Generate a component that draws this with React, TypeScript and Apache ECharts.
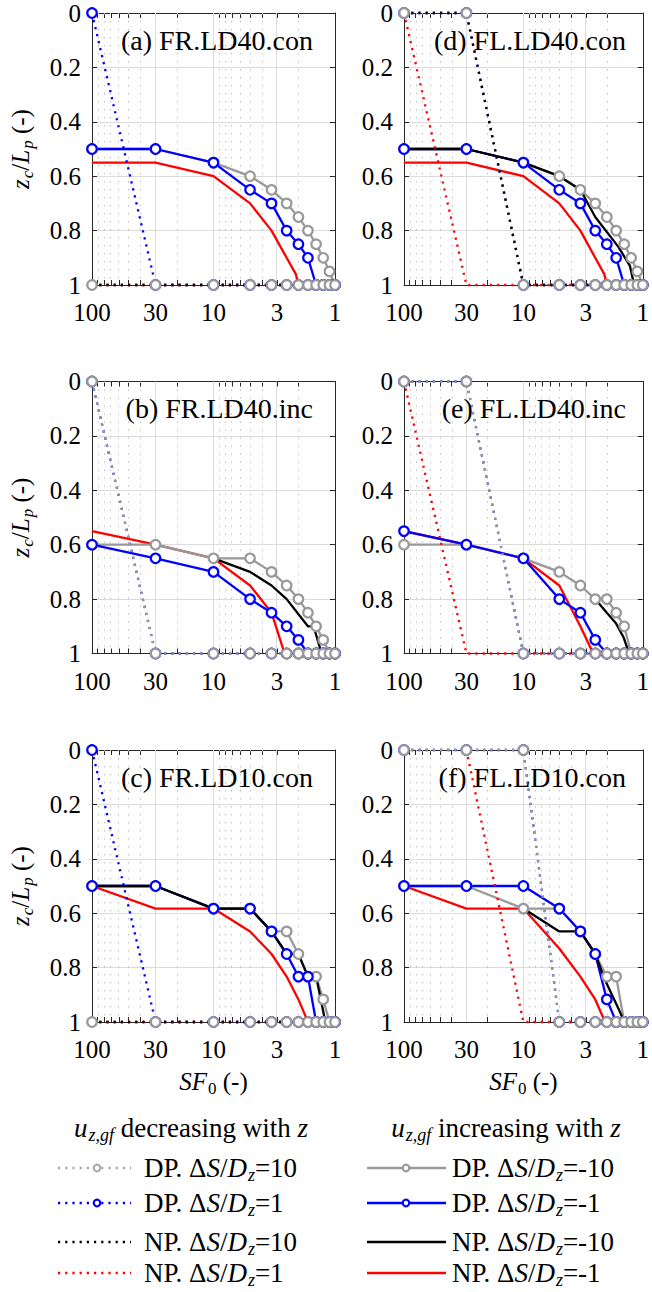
import React, { useEffect, useRef } from "react";
import * as echarts from "echarts";

// ---------- axis ticks ----------
const SF_MAJOR = [100, 30, 10, 3, 1];
const SF_MINOR = [90, 80, 70, 60, 50, 40, 20, 9, 8, 7, 6, 5, 4, 2];
const SF_TICKS = [100, 90, 80, 70, 60, 50, 40, 30, 20, 10, 9, 8, 7, 6, 5, 4, 3, 2, 1];

// ---------- data: [SF0, zc/Lp] ----------
// (a) FR.LD40.con
const a_dp10: [number, number][] = [[100, 1], [30, 1], [10, 1], [5, 1], [3.33, 1], [2.5, 1], [2, 1], [1.67, 1], [1.43, 1], [1.25, 1], [1.11, 1], [1, 1]];
const a_dp1: [number, number][] = [[100, 0], [30, 1], [10, 1], [5, 1], [3.33, 1], [2.5, 1], [2, 1], [1.67, 1], [1.43, 1], [1.25, 1], [1.11, 1], [1, 1]];
const a_np10: [number, number][] = [[100, 1], [1, 1]];
const a_np1: [number, number][] = [[100, 1], [1, 1]];
const a_dpm10: [number, number][] = [[100, 0.5], [30, 0.5], [10, 0.55], [5, 0.6], [3.33, 0.65], [2.5, 0.7], [2, 0.75], [1.67, 0.8], [1.43, 0.85], [1.25, 0.9], [1.11, 0.95], [1, 1]];
const a_dpm1: [number, number][] = [[100, 0.5], [30, 0.5], [10, 0.55], [5, 0.65], [3.33, 0.7], [2.5, 0.8], [2, 0.85], [1.67, 0.9], [1.43, 1], [1.25, 1], [1.11, 1], [1, 1]];
const a_npm10: [number, number][] = [];
const a_npm1: [number, number][] = [[100, 0.55], [30, 0.55], [10, 0.6], [5, 0.7], [3.33, 0.8], [2.5, 0.9], [2.1, 0.96], [2, 1]];

// (d) FL.LD40.con
const d_dp10: [number, number][] = [[100, 0], [30, 0], [10, 1], [5, 1], [3.33, 1], [2.5, 1], [2, 1], [1.67, 1], [1.43, 1], [1.25, 1], [1.11, 1], [1, 1]];
const d_dp1: [number, number][] = [[100, 0], [30, 0], [10, 1], [5, 1], [3.33, 1], [2.5, 1], [2, 1], [1.67, 1], [1.43, 1], [1.25, 1], [1.11, 1], [1, 1]];
const d_np10: [number, number][] = [[100, 0], [30, 0], [10, 1], [1, 1]];
const d_np1: [number, number][] = [[100, 0], [30, 1], [1, 1]];
const d_dpm10: [number, number][] = [[100, 0.5], [30, 0.5], [10, 0.55], [5, 0.6], [3.33, 0.65], [2.5, 0.7], [2, 0.75], [1.67, 0.8], [1.43, 0.85], [1.25, 0.9], [1.11, 0.95], [1, 1]];
const d_dpm1: [number, number][] = [[100, 0.5], [30, 0.5], [10, 0.55], [5, 0.65], [3.33, 0.7], [2.5, 0.8], [2, 0.85], [1.67, 0.9], [1.43, 1], [1.25, 1], [1.11, 1], [1, 1]];
const d_npm10: [number, number][] = [[100, 0.5], [30, 0.5], [10, 0.55], [5, 0.6], [3.33, 0.65], [2.5, 0.75], [1.6, 0.86], [1.28, 0.93], [1.18, 1], [1, 1]];
const d_npm1: [number, number][] = [[100, 0.55], [30, 0.55], [10, 0.6], [5, 0.7], [3.33, 0.8], [2.5, 0.9], [2.1, 0.96], [2, 1], [1, 1]];

// (b) FR.LD40.inc
const b_dp10: [number, number][] = [[100, 0], [30, 1], [10, 1], [5, 1], [3.33, 1], [2.5, 1], [2, 1], [1.67, 1], [1.43, 1], [1.25, 1], [1.11, 1], [1, 1]];
const b_dp1: [number, number][] = [[100, 0], [30, 1], [10, 1], [5, 1], [3.33, 1], [2.5, 1], [2, 1], [1.67, 1], [1.43, 1], [1.25, 1], [1.11, 1], [1, 1]];
const b_np10: [number, number][] = [];
const b_np1: [number, number][] = [];
const b_dpm10: [number, number][] = [[100, 0.6], [30, 0.6], [10, 0.65], [5, 0.65], [3.33, 0.7], [2.5, 0.75], [2, 0.8], [1.67, 0.85], [1.43, 0.9], [1.25, 0.95], [1.11, 1], [1, 1]];
const b_dpm1: [number, number][] = [[100, 0.6], [30, 0.65], [10, 0.7], [5, 0.8], [3.33, 0.85], [2.5, 0.9], [2, 0.95], [1.67, 1], [1.43, 1], [1.25, 1], [1.11, 1], [1, 1]];
const b_npm10: [number, number][] = [[10, 0.65], [5, 0.7], [3.33, 0.75], [2.5, 0.8], [1.67, 0.9], [1.5, 0.9], [1.29, 1], [1, 1]];
const b_npm1: [number, number][] = [[100, 0.55], [30, 0.6], [10, 0.65], [5, 0.75], [3.33, 0.85], [2.6, 1]];

// (e) FL.LD40.inc
const e_dp10: [number, number][] = [[100, 0], [30, 0], [10, 1], [5, 1], [3.33, 1], [2.5, 1], [2, 1], [1.67, 1], [1.43, 1], [1.25, 1], [1.11, 1], [1, 1]];
const e_dp1: [number, number][] = [[100, 0], [30, 0], [10, 1], [5, 1], [3.33, 1], [2.5, 1], [2, 1], [1.67, 1], [1.43, 1], [1.25, 1], [1.11, 1], [1, 1]];
const e_np10: [number, number][] = [];
const e_np1: [number, number][] = [[100, 0], [30, 1], [1, 1]];
const e_dpm10: [number, number][] = [[100, 0.6], [30, 0.6], [10, 0.65], [5, 0.7], [3.33, 0.75], [2.5, 0.8], [2, 0.8], [1.67, 0.85], [1.43, 0.9], [1.25, 1], [1.11, 1], [1, 1]];
const e_dpm1: [number, number][] = [[100, 0.55], [30, 0.6], [10, 0.65], [5, 0.8], [3.33, 0.85], [2.5, 0.95], [2, 1], [1.67, 1], [1.43, 1], [1.25, 1], [1.11, 1], [1, 1]];
const e_npm10: [number, number][] = [[2.5, 0.8], [2, 0.85], [1.67, 0.89], [1.45, 0.94], [1.3, 1], [1, 1]];
const e_npm1: [number, number][] = [[100, 0.55], [30, 0.6], [10, 0.65], [5, 0.75], [3.33, 0.9], [2.6, 1]];

// (c) FR.LD10.con
const c_dp10: [number, number][] = [[100, 1], [30, 1], [10, 1], [5, 1], [3.33, 1], [2.5, 1], [2, 1], [1.67, 1], [1.43, 1], [1.25, 1], [1.11, 1], [1, 1]];
const c_dp1: [number, number][] = [[100, 0], [30, 1], [10, 1], [5, 1], [3.33, 1], [2.5, 1], [2, 1], [1.67, 1], [1.43, 1], [1.25, 1], [1.11, 1], [1, 1]];
const c_np10: [number, number][] = [[100, 1], [1, 1]];
const c_np1: [number, number][] = [[100, 1], [1, 1]];
const c_dpm10: [number, number][] = [[100, 0.5], [30, 0.5], [10, 0.583], [5, 0.583], [3.33, 0.667], [2.5, 0.667], [2, 0.75], [1.67, 0.833], [1.43, 0.833], [1.25, 0.917], [1.11, 1], [1, 1]];
const c_dpm1: [number, number][] = [[100, 0.5], [30, 0.5], [10, 0.583], [5, 0.583], [3.33, 0.667], [2.5, 0.75], [2, 0.833], [1.67, 0.833], [1.43, 1], [1.25, 1], [1.11, 1], [1, 1]];
const c_npm10: [number, number][] = [[100, 0.5], [30, 0.5], [10, 0.583], [5, 0.583], [3.33, 0.667], [2.5, 0.75], [2, 0.75], [1.67, 0.833], [1.43, 0.833], [1.2, 1], [1, 1]];
const c_npm1: [number, number][] = [[100, 0.5], [30, 0.583], [10, 0.583], [5, 0.667], [3.33, 0.75], [2.5, 0.833], [2, 0.917], [1.67, 1], [1, 1]];

// (f) FL.LD10.con
const f_dp10: [number, number][] = [[100, 0], [30, 0], [10, 0], [5, 1], [3.33, 1], [2.5, 1], [2, 1], [1.67, 1], [1.43, 1], [1.25, 1], [1.11, 1], [1, 1]];
const f_dp1: [number, number][] = [[100, 0], [30, 0], [10, 0], [5, 1], [3.33, 1], [2.5, 1], [2, 1], [1.67, 1], [1.43, 1], [1.25, 1], [1.11, 1], [1, 1]];
const f_np10: [number, number][] = [];
const f_np1: [number, number][] = [[30, 0], [10, 1], [1, 1]];
const f_dpm10: [number, number][] = [[100, 0.5], [30, 0.5], [10, 0.583], [5, 0.583], [3.33, 0.667], [2.5, 0.75], [2, 0.833], [1.67, 0.833], [1.43, 1], [1.25, 1], [1.11, 1], [1, 1]];
const f_dpm1: [number, number][] = [[100, 0.5], [30, 0.5], [10, 0.5], [5, 0.583], [3.33, 0.667], [2.5, 0.75], [2, 0.917], [1.67, 1], [1.43, 1], [1.25, 1], [1.11, 1], [1, 1]];
const f_npm10: [number, number][] = [[10, 0.583], [5, 0.667], [3.33, 0.667], [2.5, 0.75], [2.1, 0.84], [1.6, 0.95], [1.43, 1], [1, 1]];
const f_npm1: [number, number][] = [[100, 0.5], [30, 0.583], [10, 0.583], [5, 0.73], [3.33, 0.833], [2.5, 0.917], [2.07, 1]];

const PANEL_TITLES = ["(a) FR.LD40.con", "(d) FL.LD40.con", "(b) FR.LD40.inc", "(e) FL.LD40.inc", "(c) FR.LD10.con", "(f) FL.LD10.con"];
const PANEL_DATA = [
  { npm1: a_npm1, dpm10: a_dpm10, dpm1: a_dpm1, npm10: a_npm10, dp1: a_dp1, dp10: a_dp10, np1: a_np1, np10: a_np10 },
  { npm1: d_npm1, dpm10: d_dpm10, dpm1: d_dpm1, npm10: d_npm10, dp1: d_dp1, dp10: d_dp10, np1: d_np1, np10: d_np10 },
  { npm1: b_npm1, dpm10: b_dpm10, dpm1: b_dpm1, npm10: b_npm10, dp1: b_dp1, dp10: b_dp10, np1: b_np1, np10: b_np10 },
  { npm1: e_npm1, dpm10: e_dpm10, dpm1: e_dpm1, npm10: e_npm10, dp1: e_dp1, dp10: e_dp10, np1: e_np1, np10: e_np10 },
  { npm1: c_npm1, dpm10: c_dpm10, dpm1: c_dpm1, npm10: c_npm10, dp1: c_dp1, dp10: c_dp10, np1: c_np1, np10: c_np10 },
  { npm1: f_npm1, dpm10: f_dpm10, dpm1: f_dpm1, npm10: f_npm10, dp1: f_dp1, dp10: f_dp10, np1: f_np1, np10: f_np10 },
];

const SERIES_NAMES: Record<string, string> = {
  dp10: "DP. ΔS/Dz=10", dp1: "DP. ΔS/Dz=1", np10: "NP. ΔS/Dz=10", np1: "NP. ΔS/Dz=1",
  dpm10: "DP. ΔS/Dz=-10", dpm1: "DP. ΔS/Dz=-1", npm10: "NP. ΔS/Dz=-10", npm1: "NP. ΔS/Dz=-1",
};

// ---------- styles ----------
const FONT = "'Liberation Serif', 'Times New Roman', serif";
const GRAY = "#999999";
const BLUE = "#0000ff";
const RED = "#ff0000";
const BLACK = "#000000";
const AXIS = "#262626";
const DOT: number[] = [2.2, 5];

const STYLE: Record<string, { color: string; dash: any; marker: boolean }> = {
  npm1: { color: RED, dash: "solid", marker: false },
  dpm10: { color: GRAY, dash: "solid", marker: true },
  dpm1: { color: BLUE, dash: "solid", marker: true },
  npm10: { color: BLACK, dash: "solid", marker: false },
  dp1: { color: BLUE, dash: DOT, marker: true },
  dp10: { color: GRAY, dash: DOT, marker: true },
  np1: { color: RED, dash: DOT, marker: false },
  np10: { color: BLACK, dash: DOT, marker: false },
};
const ORDER = ["npm1", "dpm10", "dpm1", "npm10", "dp1", "dp10", "np1", "np10"];

const COL_LEFT = [92, 404];
const COL_W = [243, 244];
const ROW_TOP = [13, 381.5, 750];
const GRID_H = 272;

const mkRich = (size: number) => ({
  n: { fontFamily: FONT, fontSize: size, color: "#000", lineHeight: size + 6 },
  i: { fontFamily: FONT, fontSize: size, fontStyle: "italic", color: "#000", lineHeight: size + 6 },
  s: { fontFamily: FONT, fontSize: Math.round(size * 0.68), fontStyle: "italic", color: "#000", lineHeight: size + 6, padding: [Math.round(size * 0.5), 0, 0, 1] },
  d: { fontFamily: FONT, fontSize: Math.round(size * 0.68), color: "#000", lineHeight: size + 6, padding: [Math.round(size * 0.5), 0, 0, 1] },
});
const RICH = mkRich(25);
const RICH_LEG = mkRich(27);
const RICH_TICK = { t: { fontFamily: FONT, fontSize: 25, color: "#000", lineHeight: 25 } };

function buildOption() {
  const grids: any[] = [];
  const xAxes: any[] = [];
  const yAxes: any[] = [];
  const series: any[] = [];
  const graphics: any[] = [];
  const lg = (v: number) => Math.log10(v);

  for (let g = 0; g < 6; g++) {
    const row = Math.floor(g / 2);
    const col = g % 2;
    grids.push({ left: COL_LEFT[col], top: ROW_TOP[row], width: COL_W[col], height: GRID_H, containLabel: false });

    const tickBase = {
      show: true, inside: true, length: 5,
      customValues: SF_TICKS.map(lg),
      lineStyle: { color: AXIS, width: 1 },
    };
    xAxes.push({
      gridIndex: g, type: "value", min: 0, max: 2, inverse: true, position: "bottom",
      axisLine: { show: true, onZero: false, lineStyle: { color: AXIS, width: 1 } },
      axisTick: tickBase,
      axisLabel: {
        show: true, customValues: SF_MAJOR.map(lg), margin: 15,
        fontFamily: FONT, fontSize: 25, color: "#000", rich: RICH_TICK,
        formatter: (v: number) => `{t|${Math.round(Math.pow(10, v))}}`,
      },
      splitLine: { show: false },
      ...(row === 2
        ? {
            name: "{i|SF}{d|0}{n| (-)}", nameLocation: "middle", nameGap: 44,
            nameTextStyle: { rich: RICH },
          }
        : {}),
    });
    xAxes.push({
      gridIndex: g, type: "value", min: 0, max: 2, inverse: true, position: "top",
      axisLine: { show: true, onZero: false, lineStyle: { color: AXIS, width: 1 } },
      axisTick: tickBase,
      axisLabel: { show: false },
      splitLine: { show: false },
    });
    yAxes.push({
      gridIndex: g, type: "value", min: 0, max: 1, interval: 0.2, inverse: true, position: "left",
      axisLine: { show: true, onZero: false, lineStyle: { color: AXIS, width: 1 } },
      axisTick: { show: true, inside: true, length: 5, lineStyle: { color: AXIS, width: 1 } },
      axisLabel: {
        show: true, margin: 11, fontFamily: FONT, fontSize: 25, color: "#000", rich: RICH_TICK,
        formatter: (v: number) => `{t|${Math.round(v * 10) / 10}}`,
      },
      splitLine: { show: true, lineStyle: { color: "#dcdcdc", width: 1 } },
      ...(col === 0
        ? {
            name: "{i|z}{s|c}{n|/}{i|L}{s|p}{n| (-)}", nameLocation: "middle", nameGap: 56, nameRotate: 90,
            nameTextStyle: { rich: RICH },
          }
        : {}),
    });
    yAxes.push({
      gridIndex: g, type: "value", min: 0, max: 1, interval: 0.2, inverse: true, position: "right",
      axisLine: { show: true, onZero: false, lineStyle: { color: AXIS, width: 1 } },
      axisTick: { show: true, inside: true, length: 5, lineStyle: { color: AXIS, width: 1 } },
      axisLabel: { show: false },
      splitLine: { show: false },
    });

    // grid lines (major solid, minor dotted) for the log SF axis
    series.push({
      type: "line", xAxisIndex: 2 * g, yAxisIndex: 2 * g, data: [], silent: true, z: 1,
      markLine: {
        silent: true, z: 1, symbol: ["none", "none"], label: { show: false }, animation: false,
        emphasis: { disabled: true },
        data: [
          ...SF_MAJOR.filter((v) => v !== 100 && v !== 1).map((v) => ({ xAxis: lg(v), lineStyle: { color: "#dcdcdc", width: 1, type: "solid" } })),
          ...SF_MINOR.map((v) => ({ xAxis: lg(v), lineStyle: { color: "#bdbdbd", width: 1, type: [1.4, 6.6] } })),
        ],
      },
    });

    const pd: any = PANEL_DATA[g];
    ORDER.forEach((key) => {
      const pts: [number, number][] = pd[key];
      if (!pts || pts.length === 0) return;
      const st = STYLE[key];
      series.push({
        type: "line", name: SERIES_NAMES[key], xAxisIndex: 2 * g, yAxisIndex: 2 * g,
        data: pts.map(([s, z]) => [lg(s), z]),
        showSymbol: st.marker, symbol: "circle", symbolSize: 9.5,
        itemStyle: { color: "#ffffff", borderColor: st.color, borderWidth: 2.2 },
        lineStyle: { color: st.color, width: 2.3, type: st.dash, cap: "butt" },
        clip: false, silent: true, z: 2,
        emphasis: { disabled: true },
      });
    });

    graphics.push({
      type: "text",
      x: COL_LEFT[col] + (col === 0 ? 221 : 222), y: ROW_TOP[row] + 27,
      style: { text: PANEL_TITLES[g], font: `28px ${FONT}`, fontFamily: FONT, fontSize: 28, fill: "#000", align: "right", verticalAlign: "middle" },
      z: 10,
    });
  }

  // ----- legend (graphic) -----
  const rowsY = [1168, 1203, 1242, 1273];
  const leftItems = [
    { color: "#aaaaaa", dash: DOT, marker: true, label: "=10", pre: "DP" },
    { color: BLUE, dash: DOT, marker: true, label: "=1", pre: "DP" },
    { color: BLACK, dash: DOT, marker: false, label: "=10", pre: "NP" },
    { color: RED, dash: DOT, marker: false, label: "=1", pre: "NP" },
  ];
  const rightItems = [
    { color: GRAY, dash: null, marker: true, label: "=-10", pre: "DP" },
    { color: BLUE, dash: null, marker: true, label: "=-1", pre: "DP" },
    { color: BLACK, dash: null, marker: false, label: "=-10", pre: "NP" },
    { color: RED, dash: null, marker: false, label: "=-1", pre: "NP" },
  ];
  const legendCols = [
    { x1: 58, x2: 131, mx: 97, tx: 144, items: leftItems, header: "{i|u}{s|z,gf}{n| decreasing with }{i|z}", hx: 191 },
    { x1: 367, x2: 446, mx: 406, tx: 452, items: rightItems, header: "{i|u}{s|z,gf}{n| increasing with }{i|z}", hx: 506 },
  ];
  legendCols.forEach((lc) => {
    graphics.push({
      type: "text", x: lc.hx, y: 1128,
      style: { text: lc.header, rich: RICH_LEG, align: "center", verticalAlign: "middle", fontFamily: FONT, fontSize: 27 },
    });
    lc.items.forEach((it, k) => {
      const y = rowsY[k];
      graphics.push({
        type: "line", shape: { x1: lc.x1, y1: y, x2: lc.x2, y2: y },
        style: { stroke: it.color, lineWidth: 2.3, lineDash: it.dash || undefined },
      });
      if (it.marker) {
        graphics.push({
          type: "circle", shape: { cx: lc.mx, cy: y, r: 3.3 },
          style: { fill: "#ffffff", stroke: it.color, lineWidth: 2.2 },
        });
      }
      graphics.push({
        type: "text", x: lc.tx, y: y,
        style: {
          text: `{n|${it.pre}. Δ}{i|S}{n|/}{i|D}{s|z}{n|${it.label}}`,
          rich: RICH_LEG, align: "left", verticalAlign: "middle", fontFamily: FONT, fontSize: 27,
        },
      });
    });
  });

  return {
    animation: false,
    backgroundColor: "#ffffff",
    textStyle: { fontFamily: FONT },
    grid: grids,
    xAxis: xAxes,
    yAxis: yAxes,
    series,
    graphic: graphics,
  };
}

export default function App() {
  const ref = useRef<HTMLDivElement>(null);
  useEffect(() => {
    if (!ref.current) return;
    const chart = echarts.init(ref.current, undefined, { renderer: "svg" });
    chart.setOption(buildOption() as any);
    return () => chart.dispose();
  }, []);
  return (
    <div
      ref={ref}
      style={{ position: "fixed", left: 0, top: 0, width: 652, height: 1292, background: "#fff" }}
    />
  );
}
